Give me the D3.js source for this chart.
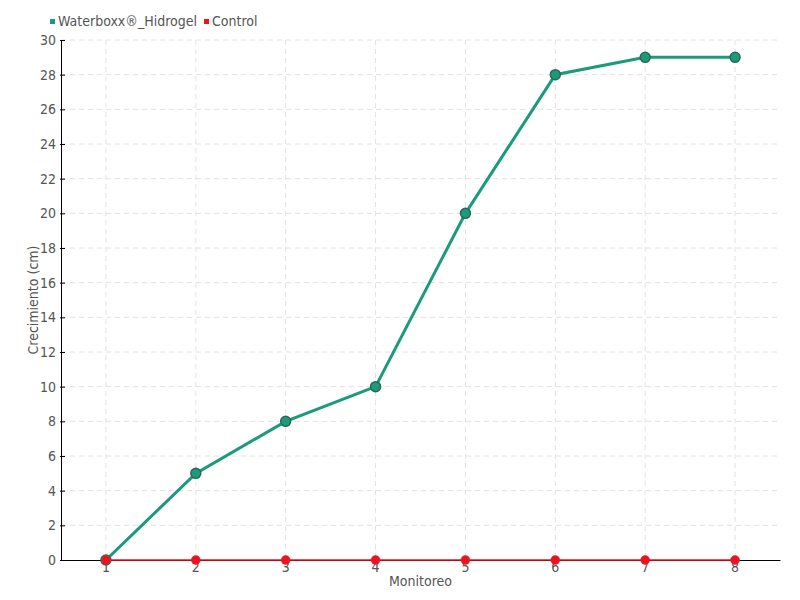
<!DOCTYPE html>
<html>
<head>
<meta charset="utf-8">
<script src="https://cdn.jsdelivr.net/npm/d3@7"></script>
<style>
  body { margin: 0; background: #fff; }
  svg text { font-family: "Liberation Sans Narrow", "DejaVu Sans Condensed", sans-serif; fill: #555; }
</style>
</head>
<body>
<svg id="chart" width="800" height="600"></svg>
<script>
// data
var monitoreo = ["1", "2", "3", "4", "5", "6", "7", "8"];
var waterboxx = [0, 5, 8, 10, 20, 28, 29, 29];
var control = [0, 0, 0, 0, 0, 0, 0, 0];
var yTicks = d3.range(0, 31, 2);

var svg = d3.select("#chart");
// note: "top" is taken by window.top, so keep the plot box in an object
var plot = {left: 61, right: 780, top: 40, bottom: 560};

var x = d3.scaleBand().domain(monitoreo).range([plot.left, plot.right]);
var y = d3.scaleLinear().domain([0, 30]).range([plot.bottom, plot.top]);
var cx = function(d) { return x(d) + x.bandwidth() / 2; };

// grid lines
svg.append("g").selectAll("line")
  .data(yTicks.slice(1))
  .enter().append("line")
  .attr("x1", plot.left).attr("x2", plot.right)
  .attr("y1", function(d) { return y(d); }).attr("y2", function(d) { return y(d); })
  .attr("stroke", "#e2e2e2").attr("stroke-dasharray", "5,4");
svg.append("g").selectAll("line")
  .data(monitoreo)
  .enter().append("line")
  .attr("x1", cx).attr("x2", cx)
  .attr("y1", plot.top).attr("y2", plot.bottom)
  .attr("stroke", "#e2e2e2").attr("stroke-dasharray", "5,4");

// axes
var yAxis = svg.append("g")
  .attr("transform", "translate(" + plot.left + ",0)")
  .call(d3.axisLeft(y).tickValues(yTicks).tickSize(4).tickSizeOuter(0));
yAxis.select(".domain").attr("stroke", "#000");
yAxis.selectAll(".tick line").attr("stroke", "#000").attr("x1", -1).attr("x2", 4);
yAxis.selectAll("text").attr("font-size", 14).attr("x", -5).attr("fill", "#555")
  .style("font-family", "'Liberation Sans Narrow', 'DejaVu Sans Condensed', sans-serif");

var xAxis = svg.append("g")
  .attr("transform", "translate(0," + plot.bottom + ")")
  .call(d3.axisBottom(x).tickSize(0).tickSizeOuter(0));
xAxis.select(".domain").attr("stroke", "#000");
xAxis.selectAll("text").attr("font-size", 14).attr("y", 2).attr("fill", "#555")
  .style("font-family", "'Liberation Sans Narrow', 'DejaVu Sans Condensed', sans-serif");

// axis titles
svg.append("text").attr("x", (plot.left + plot.right) / 2).attr("y", 586)
  .attr("text-anchor", "middle").attr("font-size", 14).text("Monitoreo");
svg.append("text")
  .attr("transform", "translate(38," + (plot.top + plot.bottom) / 2 + ") rotate(-90)")
  .attr("text-anchor", "middle").attr("font-size", 14).text("Crecimiento (cm)");

// series: green first, control drawn over it (red marker sits on top at 1)
var line = d3.line().x(function(d, i) { return cx(monitoreo[i]); }).y(function(d) { return y(d); });

svg.append("path").datum(waterboxx).attr("d", line)
  .attr("fill", "none").attr("stroke", "#1b9a7c").attr("stroke-width", 3);
svg.append("g").selectAll("circle")
  .data(waterboxx).enter().append("circle")
  .attr("cx", function(d, i) { return cx(monitoreo[i]); })
  .attr("cy", function(d) { return y(d); })
  .attr("r", 5).attr("fill", "#1b9a7c").attr("stroke", "#2a6a55").attr("stroke-width", 1.5);

svg.append("path").datum(control).attr("d", line)
  .attr("fill", "none").attr("stroke", "#ee1122").attr("stroke-width", 1.5);
svg.append("g").selectAll("circle")
  .data(control).enter().append("circle")
  .attr("cx", function(d, i) { return cx(monitoreo[i]); })
  .attr("cy", function(d) { return y(d); })
  .attr("r", 4.5).attr("fill", "#ee1122").attr("stroke", "#c8303a").attr("stroke-width", 0.5);

// legend
var legend = [{name: "Waterboxx®_Hidrogel", color: "#1b9a7c"}, {name: "Control", color: "#ee1122"}];
var lx = 50;
legend.forEach(function(l) {
  svg.append("rect").attr("x", lx).attr("y", 19).attr("width", 5).attr("height", 5).attr("fill", l.color);
  var t = svg.append("text").attr("x", lx + 8).attr("y", 26).attr("font-size", 14).text(l.name);
  lx += 8 + t.node().getComputedTextLength() + 7;
});
</script>
</body>
</html>
